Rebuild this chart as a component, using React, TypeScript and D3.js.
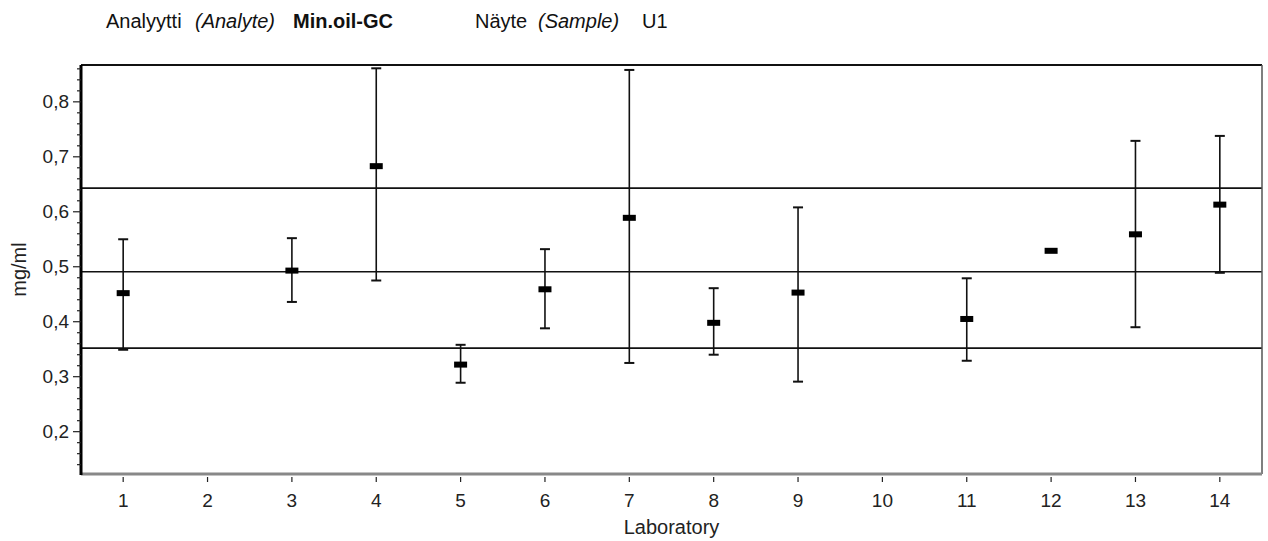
import React from 'react';
import * as d3 from 'd3';

const labs = [1, 3, 4, 5, 6, 7, 8, 9, 11, 12, 13, 14];
const means = [0.452, 0.493, 0.683, 0.322, 0.459, 0.589, 0.398, 0.453, 0.405, 0.529, 0.559, 0.613];
const upper = [0.550, 0.552, 0.861, 0.358, 0.532, 0.858, 0.461, 0.608, 0.479, null, 0.729, 0.738];
const lower = [0.349, 0.436, 0.475, 0.289, 0.388, 0.325, 0.340, 0.291, 0.329, null, 0.390, 0.489];
const refLines = [0.352, 0.491, 0.643];
const xTicks = d3.range(1, 15);
const yTicks = [0.2, 0.3, 0.4, 0.5, 0.6, 0.7, 0.8];

const font = '"Liberation Sans", Arial, sans-serif';

const App: React.FC = () => {
  const width = 1268;
  const height = 541;
  const margin = { top: 65, right: 6, bottom: 67, left: 81 };

  const x = d3.scaleLinear().domain([0.5, 14.5]).range([margin.left, width - margin.right]);
  const y = d3.scaleLinear().domain([0.123, 0.867]).range([height - margin.bottom, margin.top]);

  const minorTicks = d3.range(0.14, 0.87, 0.02).filter((v) => Math.abs(Math.round(v * 10) - v * 10) > 0.01);

  const x0 = margin.left;
  const x1 = width - margin.right;
  const y0 = height - margin.bottom;
  const y1 = margin.top;

  return (
    <svg width={width} height={height} style={{ position: 'absolute', left: 0, top: 0 }} fontFamily={font}>
      <rect width={width} height={height} fill="#fff" />

      {/* title */}
      <text x={106} y={28} fontSize={20} fill="#111">
        Analyytti
        <tspan x={195} fontStyle="italic">(Analyte)</tspan>
        <tspan x={293} fontWeight="bold">Min.oil-GC</tspan>
      </text>
      <text x={475} y={28} fontSize={20} fill="#111">
        Näyte
        <tspan x={538} fontStyle="italic">(Sample)</tspan>
        <tspan x={642}>U1</tspan>
      </text>

      {/* reference lines */}
      {refLines.map((v, i) => (
        <line key={i} x1={x0} x2={x1} y1={y(v)} y2={y(v)} stroke="#111" strokeWidth={1.6} />
      ))}

      {/* frame */}
      <line x1={x0} x2={x1} y1={y1} y2={y1} stroke="#111" strokeWidth={1.8} />
      <line x1={x1} x2={x1} y1={y1} y2={y0} stroke="#555" strokeWidth={1.5} />
      <line x1={x0} x2={x1} y1={y0} y2={y0} stroke="#888" strokeWidth={3} />
      <line x1={x0} x2={x0} y1={y1} y2={y0 + 1} stroke="#000" strokeWidth={3} />

      {/* y ticks */}
      {minorTicks.map((v, i) => (
        <line key={i} x1={x0 - 4} x2={x0} y1={y(v)} y2={y(v)} stroke="#222" strokeWidth={1.2} />
      ))}
      {yTicks.map((v) => (
        <g key={v}>
          <line x1={x0 - 8} x2={x0} y1={y(v)} y2={y(v)} stroke="#222" strokeWidth={1.2} />
          <text x={x0 - 12} y={y(v)} dy="0.35em" textAnchor="end" fontSize={19} fill="#222">
            {d3.format('.1f')(v).replace('.', ',')}
          </text>
        </g>
      ))}

      {/* x ticks */}
      {xTicks.map((t) => (
        <g key={t}>
          <line x1={x(t)} x2={x(t)} y1={y0 + 3} y2={y0 + 8} stroke="#222" strokeWidth={1.2} />
          <text x={x(t)} y={y0 + 33} textAnchor="middle" fontSize={19} fill="#222">
            {t}
          </text>
        </g>
      ))}

      <text x={(x0 + x1) / 2} y={height - 7} textAnchor="middle" fontSize={20} fill="#222">
        Laboratory
      </text>
      <text transform={`translate(26, ${(y0 + y1) / 2}) rotate(-90)`} textAnchor="middle" fontSize={20} fill="#222">
        mg/ml
      </text>

      {/* error bars */}
      {labs.map((lab, i) => {
        const cx = x(lab);
        const up = upper[i];
        const lo = lower[i];
        return (
          <g key={lab}>
            {up !== null && lo !== null && (
              <>
                <line x1={cx} x2={cx} y1={y(up)} y2={y(lo)} stroke="#111" strokeWidth={1.6} />
                <line x1={cx - 5} x2={cx + 5} y1={y(up)} y2={y(up)} stroke="#111" strokeWidth={2} />
                <line x1={cx - 5} x2={cx + 5} y1={y(lo)} y2={y(lo)} stroke="#111" strokeWidth={2} />
              </>
            )}
            <rect x={cx - 6.5} y={y(means[i]) - 3} width={13} height={6} fill="#000" />
          </g>
        );
      })}
    </svg>
  );
};

export default App;
